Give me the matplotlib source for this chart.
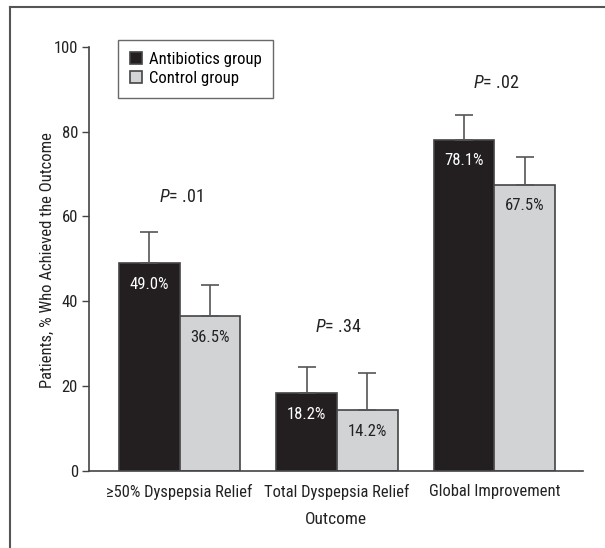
import numpy as np
import matplotlib
matplotlib.use('Agg')
import matplotlib.pyplot as plt
from matplotlib.lines import Line2D

plt.rcParams['font.family'] = ['Roboto Condensed', 'DejaVu Sans']
plt.rcParams['mathtext.fontset'] = 'custom'
plt.rcParams['mathtext.it'] = 'Roboto Condensed:italic'
plt.rcParams['mathtext.rm'] = 'Roboto Condensed'

# data
outcomes = ['\u226550% Dyspepsia Relief', 'Total Dyspepsia Relief', 'Global Improvement']
antibiotics = [49.0, 18.2, 78.1]
control = [36.5, 14.2, 67.5]
antibiotics_upper = [56.3, 24.4, 83.9]
control_upper = [43.7, 23.0, 74.1]
p_values = ['.01', '.34', '.02']
p_heights = [64.6, 33.9, 91.4]

dark = '#231f20'
light = '#d1d3d4'
edge = '#444444'

fig = plt.figure(figsize=(6.05, 5.48), dpi=100)
ax = fig.add_axes([0.1471, 0.1414, 0.9641 - 0.1471, 0.9142 - 0.1414])

x = np.arange(len(outcomes))
w = 0.387
err_a = [np.zeros(3), np.array(antibiotics_upper) - np.array(antibiotics)]
err_c = [np.zeros(3), np.array(control_upper) - np.array(control)]

ax.bar(x - w/2, antibiotics, w, color=dark, edgecolor=edge, linewidth=1.2,
       yerr=err_a, capsize=6.5, error_kw=dict(ecolor='#555555', elinewidth=1.2, capthick=1.2),
       label='Antibiotics group', zorder=2)
ax.bar(x + w/2, control, w, color=light, edgecolor=edge, linewidth=1.2,
       yerr=err_c, capsize=6.5, error_kw=dict(ecolor='#555555', elinewidth=1.2, capthick=1.2),
       label='Control group', zorder=2)

for i in range(len(x)):
    ax.text(x[i] - w/2, antibiotics[i] - 5, '%.1f%%' % antibiotics[i], color='white',
            ha='center', va='center', fontsize=12, zorder=3)
    ax.text(x[i] + w/2, control[i] - 5, '%.1f%%' % control[i], color='#222222',
            ha='center', va='center', fontsize=12, zorder=3)
    ax.text(x[i] + 0.01, p_heights[i], '$\\mathit{P}$= ' + p_values[i], ha='center',
            va='center', fontsize=13, color='#222222')

ax.set_xlim(-0.575, 2.564)
ax.set_ylim(0, 100)
ax.set_yticks([0, 20, 40, 60, 80, 100])
ax.set_xticks(x)
ax.set_xticklabels(outcomes)
ax.tick_params(axis='x', length=0, pad=10, labelsize=11.9, colors='#222222')
ax.tick_params(axis='y', length=5, width=1, pad=3, labelsize=12, colors='#222222', color='#444444')
for s in ['top', 'right']:
    ax.spines[s].set_visible(False)
for s in ['left', 'bottom']:
    ax.spines[s].set_color('#444444')
    ax.spines[s].set_linewidth(1.2)
ax.set_xlabel('Outcome', fontsize=12.5, color='#222222', labelpad=8)
ax.set_ylabel('Patients, % Who Achieved the Outcome', fontsize=12, color='#222222')
ax.yaxis.set_label_coords(-0.069, 0.496)

leg = fig.legend(loc='upper left', bbox_to_anchor=(118/605, 1 - 40/548), fontsize=12,
                 frameon=True, fancybox=False, edgecolor='#444444', handlelength=0.75,
                 handleheight=0.75, handletextpad=0.4, borderpad=0.7, labelspacing=0.25,
                 borderaxespad=0)
leg.get_frame().set_linewidth(1.0)

# outer frame (left and top edges)
fig.add_artist(Line2D([10/605, 10/605], [0, 1 - 7/548], color='#555555', lw=1.5))
fig.add_artist(Line2D([10/605, 1], [1 - 7/548, 1 - 7/548], color='#555555', lw=1.5))

fig.savefig('out.png', dpi=100)
